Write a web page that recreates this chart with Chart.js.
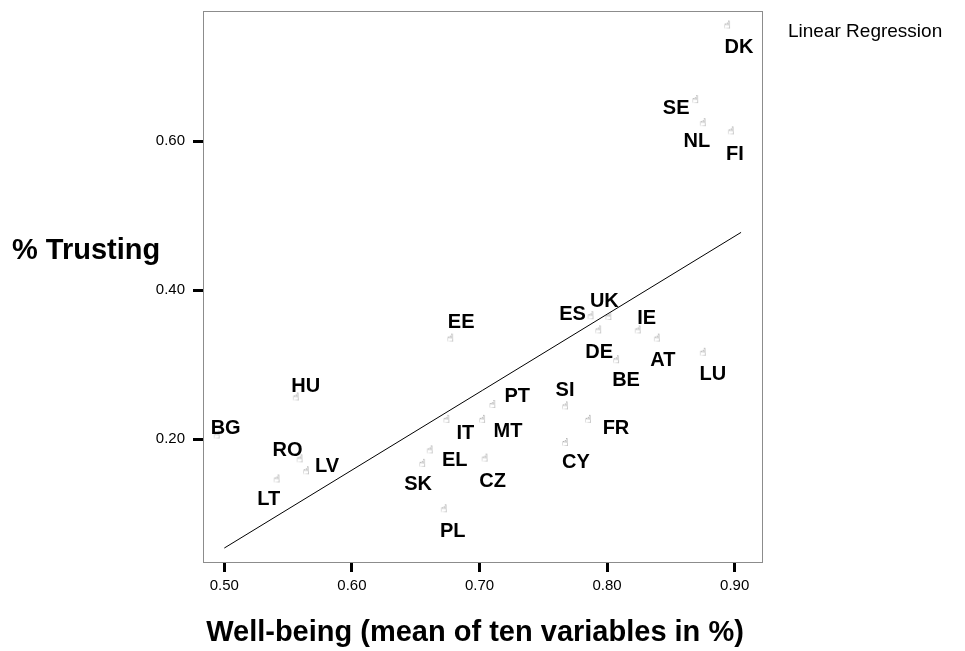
<!DOCTYPE html>
<html>
<head>
<meta charset="utf-8">
<title>Well-being and trust</title>
<script src="https://cdn.jsdelivr.net/npm/chart.js@4.4.1/dist/chart.umd.min.js"></script>
<style>
  html, body { margin: 0; padding: 0; background: #fff; }
  #wrap { width: 965px; height: 651px; position: relative; }
</style>
</head>
<body>
<div id="wrap"><canvas id="trustChart"></canvas></div>
<script>
// country codes and values
const countries = ['BG', 'HU', 'RO', 'LV', 'LT', 'EE', 'IT', 'MT', 'PT', 'EL', 'SK', 'CZ', 'PL',
  'ES', 'UK', 'DE', 'IE', 'AT', 'BE', 'LU', 'SI', 'FR', 'CY', 'DK', 'SE', 'NL', 'FI'];
const wellBeing = [0.494, 0.556, 0.559, 0.564, 0.541, 0.677, 0.674, 0.702, 0.710, 0.661, 0.655, 0.704, 0.672,
  0.787, 0.801, 0.793, 0.824, 0.839, 0.807, 0.875, 0.767, 0.785, 0.767, 0.894, 0.869, 0.875, 0.897];
const trusting = [0.205, 0.256, 0.173, 0.157, 0.146, 0.335, 0.226, 0.226, 0.246, 0.185, 0.167, 0.174, 0.106,
  0.365, 0.364, 0.346, 0.346, 0.335, 0.306, 0.316, 0.244, 0.226, 0.195, 0.755, 0.655, 0.624, 0.613];

// fitted line end points
const regX = [0.500, 0.905];
const regY = [0.054, 0.4775];

const xTicks = [0.50, 0.60, 0.70, 0.80, 0.90];
const yTicks = [0.20, 0.40, 0.60];

// where each country code sits relative to its marker (px)
const labelOffsets = [[9, -9], [10, -12], [-12, -10], [21, -6], [-8, 19], [11, -18], [19, 12], [26, 10],
  [25, -10], [25, 9], [-4, 19], [8, 21], [9, 21], [-18, -3], [-4, -17], [1, 21], [9, -13], [6, 20],
  [10, 19], [10, 20], [0, -17], [28, 7], [11, 18], [12, 20], [-19, 7], [-6, 17], [4, 22]];

const FONT = '"Liberation Sans", Arial, sans-serif';

// small grey hand glyph used as marker
function makeMarker() {
  const c = document.createElement('canvas');
  c.width = 10;
  c.height = 12;
  const g = c.getContext('2d');
  g.fillStyle = '#3c3c3c';
  g.font = '11px "DejaVu Sans"';
  g.textAlign = 'center';
  g.textBaseline = 'middle';
  g.fillText('\u261D', 5, 6);
  return c;
}

const decorations = {
  id: 'decorations',
  afterDatasetsDraw(chart) {
    const ctx = chart.ctx;
    const area = chart.chartArea;
    const meta = chart.getDatasetMeta(0);
    ctx.save();

    // box round the plot
    ctx.strokeStyle = '#8c8c8c';
    ctx.lineWidth = 1;
    ctx.strokeRect(area.left + 0.5, area.top + 0.5, area.right - area.left, area.bottom - area.top);

    // country labels
    ctx.fillStyle = '#000';
    ctx.font = 'bold 20px ' + FONT;
    ctx.textAlign = 'center';
    ctx.textBaseline = 'alphabetic';
    meta.data.forEach(function (pt, i) {
      const off = labelOffsets[i];
      ctx.fillText(countries[i], pt.x + off[0], pt.y + off[1] + 7);
    });

    // axis titles
    ctx.font = 'bold 29px ' + FONT;
    ctx.textAlign = 'left';
    ctx.fillText('% Trusting', 12, 259);
    ctx.textAlign = 'center';
    ctx.fillText('Well-being (mean of ten variables in %)', 475, 641);

    ctx.font = '19px ' + FONT;
    ctx.textAlign = 'left';
    ctx.fillText('Linear Regression', 788, 37);
    ctx.restore();
  }
};

function tickGrid() {
  return {
    drawOnChartArea: false,
    drawTicks: true,
    tickLength: 10,
    tickWidth: 3,
    tickColor: '#000'
  };
}

const ctx = document.getElementById('trustChart').getContext('2d');
const marker = makeMarker();

new Chart(ctx, {
  type: 'scatter',
  data: {
    datasets: [
      {
        label: 'Countries',
        data: wellBeing.map(function (v, i) { return { x: v, y: trusting[i] }; }),
        pointStyle: marker,
        pointRadius: 4
      },
      {
        label: 'Linear Regression',
        type: 'line',
        data: regX.map(function (v, i) { return { x: v, y: regY[i] }; }),
        borderColor: '#000',
        borderWidth: 1,
        pointRadius: 0,
        fill: false
      }
    ]
  },
  options: {
    responsive: true,
    maintainAspectRatio: false,
    animation: false,
    layout: {
      autoPadding: false,
      padding: { top: 11, right: 203, left: 0, bottom: 0 }
    },
    plugins: {
      legend: { display: false },
      tooltip: { enabled: false }
    },
    scales: {
      x: {
        type: 'linear',
        min: 0.4833,
        max: 0.9214,
        afterBuildTicks: function (scale) { scale.ticks = xTicks.map(function (v) { return { value: v }; }); },
        afterFit: function (scale) {
          scale.height = 89;
          scale.paddingLeft = 0;
          scale.paddingRight = 0;
        },
        ticks: {
          padding: 5,
          color: '#000',
          font: { family: FONT, size: 15 },
          callback: function (v) { return Number(v).toFixed(2); }
        },
        grid: tickGrid(),
        border: { display: false }
      },
      y: {
        type: 'linear',
        min: 0.0353,
        max: 0.7745,
        afterBuildTicks: function (scale) { scale.ticks = yTicks.map(function (v) { return { value: v }; }); },
        afterFit: function (scale) {
          scale.width = 203;
          scale.paddingTop = 0;
          scale.paddingBottom = 0;
        },
        ticks: {
          padding: 8,
          color: '#000',
          font: { family: FONT, size: 15 },
          callback: function (v) { return Number(v).toFixed(2); }
        },
        grid: tickGrid(),
        border: { display: false }
      }
    }
  },
  plugins: [decorations]
});
</script>
</body>
</html>
